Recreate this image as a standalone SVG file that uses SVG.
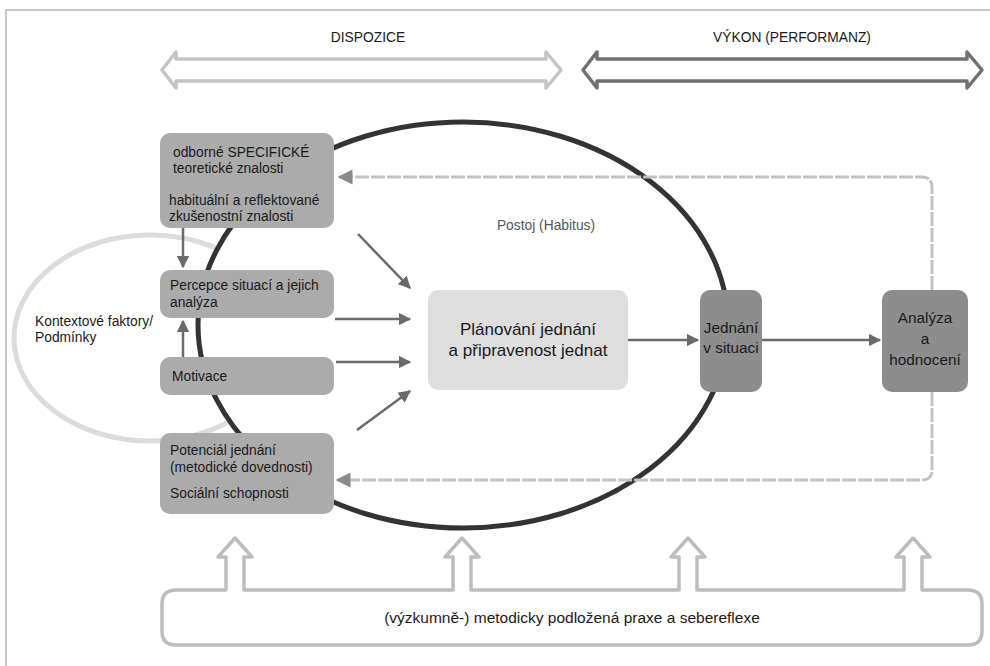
<svg xmlns="http://www.w3.org/2000/svg" width="990" height="666" viewBox="0 0 990 666">
<defs>
<style>
text{font-family:"Liberation Sans",Arial,sans-serif;fill:#1a1a1a}
.lbox{fill:#ababab}
.dbox{fill:#8d8d8d}
.t13{font-size:13.8px}
.t15{font-size:15.3px}
.t17{font-size:17px}
.mid{text-anchor:middle}
.arr{stroke:#6a6a6a;stroke-width:2.5;fill:none;marker-end:url(#ah)}
.dash{stroke:#c2c2c2;stroke-width:3;fill:none;stroke-dasharray:14 2;marker-end:url(#dh)}
</style>
<marker id="ah" viewBox="0 0 10 10" refX="9" refY="5" markerWidth="5" markerHeight="5" markerUnits="strokeWidth" orient="auto">
<path d="M0,0 L10,5 L0,10 Z" fill="#6a6a6a"/>
</marker>
<marker id="dh" viewBox="0 0 10 10" refX="9" refY="5" markerWidth="5.5" markerHeight="5" markerUnits="strokeWidth" orient="auto">
<path d="M0,0 L10,5 L0,10 Z" fill="#8a8a8a"/>
</marker>
</defs>
<rect x="0" y="0" width="990" height="666" fill="#ffffff"/>
<rect x="6" y="10" width="990" height="670" fill="none" stroke="#c8c8c8" stroke-width="2"/>

<g id="dispozice">
<path d="M162,70 L176,52 L176,59 L546,59 L546,52 L561,70 L546,88 L546,81 L176,81 L176,88 Z" fill="#fff" stroke="#c4c4c4" stroke-width="3.5" stroke-linejoin="round"/>
<text x="368" y="42" class="t13 mid">DISPOZICE</text>
</g>
<g id="vykon">
<path d="M583,70 L597,52 L597,59 L967,59 L967,52 L982,70 L967,88 L967,81 L597,81 L597,88 Z" fill="#fff" stroke="#707070" stroke-width="3.5" stroke-linejoin="round"/>
<text x="792" y="42" class="t13 mid">VÝKON (PERFORMANZ)</text>
</g>

<g id="kontext">
<ellipse cx="150" cy="338" rx="136" ry="103" fill="none" stroke="#dcdcdc" stroke-width="5"/>
<text x="35" y="326" class="t13">Kontextové faktory/</text>
<text x="35" y="342" class="t13">Podmínky</text>
</g>

<g id="postoj">
<ellipse cx="463" cy="325" rx="265" ry="203" fill="#ffffff" stroke="#333333" stroke-width="5"/>
<text x="546" y="230" class="t13 mid" style="fill:#555">Postoj (Habitus)</text>
</g>

<g id="connectors">
<path class="arr" d="M183,228 L183,267"/>
<path class="arr" d="M183,357 L183,321"/>
<path class="arr" d="M358,234 L410,288"/>
<path class="arr" d="M335,319 L410,319"/>
<path class="arr" d="M336,362 L410,362"/>
<path class="arr" d="M357,430 L410,391"/>
<path class="arr" d="M628,340 L698,340"/>
<path class="arr" d="M762,340 L880,340"/>
<path class="dash" d="M932,290 L932,187 Q932,177 922,177 L339,177"/>
<path class="dash" d="M932,392 L932,470 Q932,480 922,480 L337,480"/>
</g>

<g id="odborne">
<rect x="160" y="133" width="174" height="95" rx="10" class="lbox"/>
<text x="173" y="157" class="t13">odborné SPECIFICKÉ</text>
<text x="173" y="173" class="t13">teoretické znalosti</text>
<text x="169" y="205" class="t13">habituální a reflektované</text>
<text x="169" y="221" class="t13">zkušenostní znalosti</text>
</g>
<g id="percepce">
<rect x="160" y="270" width="174" height="48" rx="10" class="lbox"/>
<text x="170" y="290" class="t13">Percepce situací a jejich</text>
<text x="170" y="307" class="t13">analýza</text>
</g>
<g id="motivace">
<rect x="160" y="357" width="174" height="38" rx="10" class="lbox"/>
<text x="172" y="381" class="t13">Motivace</text>
</g>
<g id="potencial">
<rect x="160" y="433" width="174" height="81" rx="10" class="lbox"/>
<text x="170" y="455" class="t13">Potenciál jednání</text>
<text x="170" y="472" class="t13">(metodické dovednosti)</text>
<text x="170" y="498" class="t13">Sociální schopnosti</text>
</g>

<g id="planovani">
<rect x="428" y="290" width="200" height="100" rx="10" fill="#dedede"/>
<text x="528" y="335" class="t17 mid">Plánování jednání</text>
<text x="528" y="356" class="t17 mid">a připravenost jednat</text>
</g>
<g id="jednani">
<rect x="700" y="290" width="62" height="102" rx="10" class="dbox"/>
<text x="731" y="333" class="t15 mid">Jednání</text>
<text x="731" y="353" class="t15 mid">v situaci</text>
</g>
<g id="analyza">
<rect x="882" y="290" width="86" height="102" rx="10" class="dbox"/>
<text x="925" y="323" class="t15 mid">Analýza</text>
<text x="925" y="344" class="t15 mid">a</text>
<text x="925" y="365" class="t15 mid">hodnocení</text>
</g>

<g id="praxe">
<path d="M176,590 L226,590 L226,557 L218,557 L235,538 L252,557 L244,557 L244,590 L453,590 L453,557 L445,557 L462,538 L479,557 L471,557 L471,590 L679,590 L679,557 L671,557 L688,538 L705,557 L697,557 L697,590 L904,590 L904,557 L896,557 L913,538 L930,557 L922,557 L922,590 L968,590 Q982,590 982,604 L982,631 Q982,645 968,645 L176,645 Q162,645 162,631 L162,604 Q162,590 176,590 Z" fill="#fff" stroke="#bdbdbd" stroke-width="3.5" stroke-linejoin="round"/>
<text x="572" y="623" style="font-size:15.5px" class="mid">(výzkumně-) metodicky podložená praxe a sebereflexe</text>
</g>
</svg>
